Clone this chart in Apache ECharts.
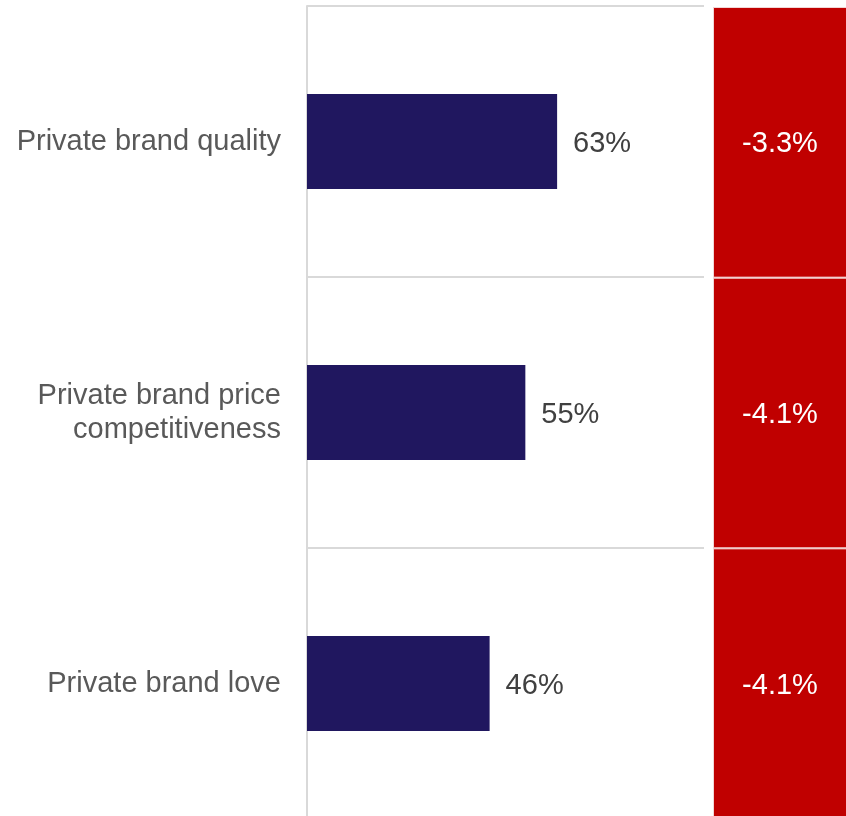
<!DOCTYPE html>
<html>
<head>
<meta charset="utf-8">
<script src="https://cdn.jsdelivr.net/npm/echarts@6/dist/echarts.min.js"></script>
<style>
  html, body { margin: 0; padding: 0; background: #ffffff; }
  #chart { width: 846px; height: 816px; }
</style>
</head>
<body>
<div id="chart"></div>
<script>
// Survey measures, top to bottom
const categories = ['Private brand quality', 'Private brand price\ncompetitiveness', 'Private brand love'];
// Share of respondents (%)
const shares = [63, 55, 46];
// Change versus prior period (percentage points)
const changes = [-3.3, -4.1, -4.1];

const FONT = '"Liberation Sans", Arial, sans-serif';
const FONT_SIZE = 29;

const chart = echarts.init(document.getElementById('chart'), null, { renderer: 'canvas' });

chart.setOption({
  backgroundColor: '#ffffff',
  animation: false,
  grid: [
    { left: 307, top: 6, width: 397, height: 813, outerBoundsMode: 'none' },
    { left: 713, top: 7, width: 134, height: 812, outerBoundsMode: 'none' }
  ],
  xAxis: [
    { gridIndex: 0, type: 'value', min: 0, max: 100, show: false },
    { gridIndex: 1, type: 'value', min: 0, max: 1, show: false }
  ],
  yAxis: [
    {
      gridIndex: 0,
      type: 'category',
      data: categories,
      inverse: true,
      axisLine: { show: true, lineStyle: { color: '#d9d9d9', width: 2 } },
      axisTick: { show: false },
      splitLine: { show: true, lineStyle: { color: '#d9d9d9', width: 2 } },
      axisLabel: {
        color: '#595959',
        fontFamily: FONT,
        fontSize: FONT_SIZE,
        lineHeight: 34,
        align: 'right',
        padding: [4, 0, 0, 0],
        margin: 26
      }
    },
    {
      gridIndex: 1,
      type: 'category',
      data: categories,
      inverse: true,
      show: false
    }
  ],
  series: [
    {
      type: 'bar',
      xAxisIndex: 0,
      yAxisIndex: 0,
      data: shares,
      barWidth: '35%',
      itemStyle: { color: '#20175F' },
      label: {
        show: true,
        position: 'right',
        distance: 16,
        offset: [0, 2],
        formatter: p => p.value + '%',
        color: '#404040',
        fontFamily: FONT,
        fontSize: FONT_SIZE
      }
    },
    {
      type: 'bar',
      xAxisIndex: 1,
      yAxisIndex: 1,
      data: changes.map(() => 1),
      barWidth: '100%',
      itemStyle: { color: '#C00000', borderColor: '#f2d6d6', borderWidth: 1 },
      label: {
        show: true,
        position: 'inside',
        offset: [0, 2],
        formatter: p => changes[p.dataIndex].toFixed(1) + '%',
        color: '#ffffff',
        fontFamily: FONT,
        fontSize: FONT_SIZE
      }
    }
  ]
});
</script>
</body>
</html>
